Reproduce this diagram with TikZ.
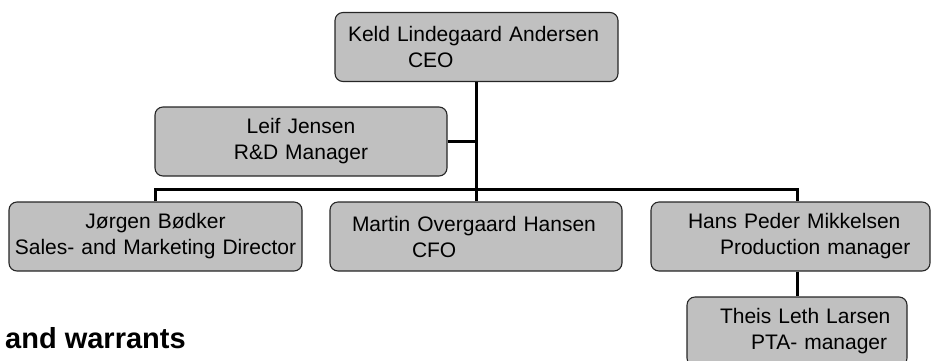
\documentclass[tikz,border=0pt]{standalone}
\usepackage{fontspec}
\setmainfont{Liberation Sans}
\definecolor{boxgray}{RGB}{192,192,192}
\begin{document}
\begin{tikzpicture}[x=1pt,y=-1pt,
  orgbox/.style={draw=black!85, line width=1.1pt, fill=boxgray, rounded corners=8pt,
    minimum height=69pt, inner xsep=0pt, inner ysep=2pt,
    font=\fontsize{21}{26}\selectfont},
  leftbox/.style={orgbox, text width=#1, minimum width=#1, align=left},
  midbox/.style={orgbox, text width=#1, minimum width=#1, align=center},
  conn/.style={line width=3pt, line join=miter, black}]
\clip (0,0) rectangle (931,360);
\useasboundingbox (0,0) rectangle (931,360);

\node[leftbox=283pt] (ceo) at (476.5,47)
  {\hspace*{13pt}Keld Lindegaard Andersen\\\hspace*{73pt}CEO};
\node[midbox=292pt] (leif) at (301,141.5)
  {Leif Jensen\\R\&D Manager};
\node[midbox=293pt] (jorgen) at (155.5,236.5)
  {Jørgen Bødker\\Sales- and Marketing Director};
\node[leftbox=292pt] (martin) at (476,236.5)
  {\hspace*{22pt}Martin Overgaard Hansen\\\hspace*{82pt}CFO};
\node[leftbox=279pt] (hans) at (790.5,236.5)
  {\hspace*{37pt}Hans Peder Mikkelsen\\\hspace*{69pt}Production manager};
\node[leftbox=220pt] (theis) at (797,331.5)
  {\hspace*{33pt}Theis Leth Larsen\\\hspace*{64pt}PTA- manager};

\coordinate (bus) at (477,189);
\draw[conn] (ceo.south) -- (ceo.south |- bus);
\draw[conn] (leif.east) -- (leif.east -| ceo.south);
\draw[conn] (jorgen.north) |- (bus) -| (hans.north -| theis.north);
\draw[conn] (martin.north) -- (martin.north |- bus);
\draw[conn] (hans.south -| theis.north) -- (theis.north);

\node[anchor=base west, inner sep=0pt, font=\fontsize{29}{34}\selectfont\bfseries] (warr) at (5,348) {and warrants};
\end{tikzpicture}
\end{document}
